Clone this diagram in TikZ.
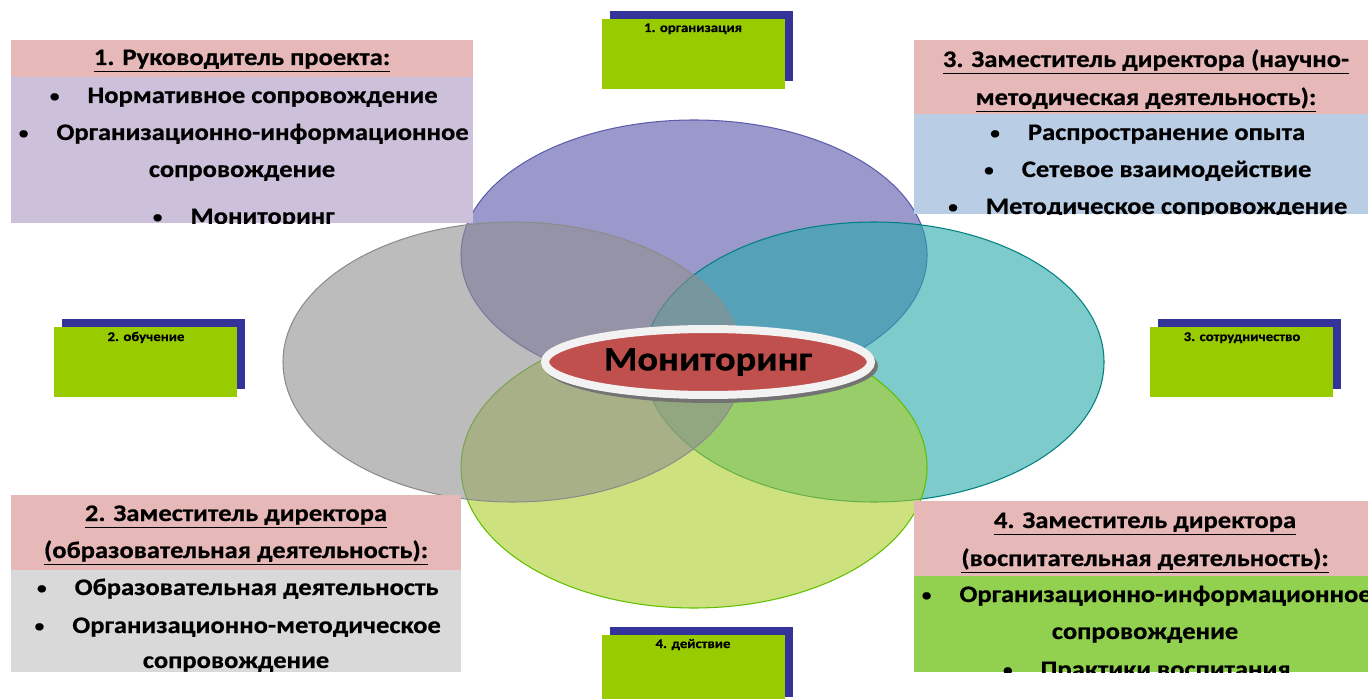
\documentclass[tikz,border=0pt]{standalone}
\usepackage{fontspec}
\usepackage{graphicx}
\setmainfont{Carlito}
\newfontfamily\boxfont{Carlito}[FakeStretch=1.12, BoldFeatures={FakeBold=0.6}]
\usetikzlibrary{shapes.geometric}
\definecolor{headpink}{RGB}{230,184,183}
\definecolor{lilacbody}{RGB}{204,192,218}
\definecolor{bluebody}{RGB}{185,205,229}
\definecolor{graybody}{RGB}{217,217,217}
\definecolor{greenbody}{RGB}{146,208,80}
\definecolor{tabgreen}{RGB}{153,204,0}
\definecolor{tabblue}{RGB}{51,51,153}
\definecolor{monred}{RGB}{192,80,77}
\definecolor{ovpurple}{RGB}{88,85,170}
\definecolor{ovgray}{RGB}{143,143,143}
\definecolor{ovteal}{RGB}{40,168,170}
\definecolor{ovgreen}{RGB}{172,207,40}
\newcommand{\bul}{\hspace{2pt}\raisebox{0.12ex}{\scalebox{0.72}{\textbullet}}\hspace{16pt}}

\begin{document}
\begin{tikzpicture}[x=0.02cm, y=-0.02cm,
  line/.style={anchor=base, inner sep=0pt, font=\boxfont\bfseries\fontsize{13.5}{15}\selectfont},
  head/.style={line},
  tab/.style={anchor=north west, fill=tabgreen, minimum width=3.66cm, minimum height=1.4cm, inner sep=0pt},
  tabshade/.style={tab, fill=tabblue},
  tabtext/.style={anchor=base, inner sep=0pt, font=\boxfont\bfseries\fontsize{7.5}{8}\selectfont},
  petal/.style={fill opacity=0.6, line width=0.6pt}]
\useasboundingbox (0,0) rectangle (1368,699);

% four petals
\filldraw[petal, fill=ovpurple, draw=tabblue!80] (694,255) ellipse [x radius=233, y radius=135];
\filldraw[petal, fill=ovteal, draw=teal] (874,362) ellipse [x radius=230, y radius=140];
\filldraw[petal, fill=ovgreen, draw=green!50!yellow!75!black] (694,467) ellipse [x radius=233, y radius=141];
\filldraw[petal, fill=ovgray, draw=black!45] (513,362) ellipse [x radius=230, y radius=140];

% centre
\fill[black!55] (711,366) ellipse [x radius=167, y radius=37];
\node[ellipse, fill=monred, draw=black!5, line width=0.16cm, minimum width=6.52cm, minimum height=1.32cm, inner sep=0pt, font=\boxfont\bfseries\fontsize{19.5}{24}\selectfont] (mon) at (708,362) {Мониторинг};

% tabs
\node[tabshade] (orgsh) at (610,11) {};
\node[tab] (org) at (602,19) {};
\node[tabtext] (orgtxt) at (693,32) {1. организация};
\node[tabshade] (edush) at (62,319) {};
\node[tab] (edu) at (54,327) {};
\node[tabtext] (edutxt) at (146,341) {2. обучение};
\node[tabshade] (coopsh) at (1158,319) {};
\node[tab] (coop) at (1150,327) {};
\node[tabtext] (cooptxt) at (1242,341) {3. сотрудничество};
\node[tabshade] (actsh) at (610,627) {};
\node[tab] (act) at (602,635) {};
\node[tabtext] (acttxt) at (693,648) {4. действие};

% 1. project head
\begin{scope}
\clip (11,40) rectangle (473,223);
\fill[headpink] (11,40) rectangle (473,77);
\fill[lilacbody] (11,77) rectangle (473,223);
\node[head] (h1) at (242,65) {\underline{1. Руководитель проекта:}};
\node[line] (h1a) at (242,103) {\bul Нормативное сопровождение};
\node[line] (h1b) at (242,140) {\bul Организационно-информационное};
\node[line] (h1c) at (242,177) {сопровождение};
\node[line] (h1d) at (242,224) {\bul Мониторинг};
\end{scope}

% 3. deputy, science and methods
\begin{scope}
\clip (914,40) rectangle (1368,214);
\fill[headpink] (914,40) rectangle (1368,114);
\fill[bluebody] (914,114) rectangle (1368,214);
\node[head] (h3) at (1146,67) {\underline{3. Заместитель директора (научно-}};
\node[head] (h3x) at (1146,105) {\underline{методическая деятельность):}};
\node[line] (h3a) at (1146,140) {\bul Распространение опыта};
\node[line] (h3b) at (1146,177) {\bul Сетевое взаимодействие};
\node[line] (h3c) at (1146,214) {\bul Методическое сопровождение};
\end{scope}

% 2. deputy, education
\begin{scope}
\clip (11,495) rectangle (461,672);
\fill[headpink] (11,495) rectangle (461,570);
\fill[graybody] (11,570) rectangle (461,672);
\node[head] (h2) at (236,521) {\underline{2. Заместитель директора}};
\node[head] (h2x) at (236,558) {\underline{(образовательная деятельность):}};
\node[line] (h2a) at (236,595) {\bul Образовательная деятельность};
\node[line] (h2b) at (236,633) {\bul Организационно-методическое};
\node[line] (h2c) at (236,668) {сопровождение};
\end{scope}

% 4. deputy, upbringing
\begin{scope}
\clip (914,501) rectangle (1368,672);
\fill[headpink] (914,501) rectangle (1368,576);
\fill[greenbody] (914,576) rectangle (1368,672);
\node[head] (h4) at (1145,528) {\underline{4. Заместитель директора}};
\node[head] (h4x) at (1145,566) {\underline{(воспитательная деятельность):}};
\node[line] (h4a) at (1145,602) {\bul Организационно-информационное};
\node[line] (h4b) at (1145,639) {сопровождение};
\node[line] (h4c) at (1145,677) {\bul Практики воспитания};
\end{scope}
\end{tikzpicture}
\end{document}
